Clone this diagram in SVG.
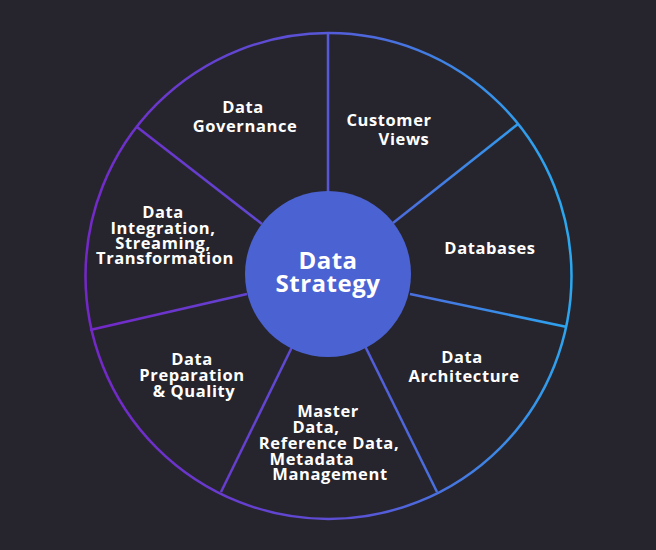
<svg xmlns="http://www.w3.org/2000/svg" width="656" height="550" viewBox="0 0 656 550">
<defs>
<linearGradient id="g" gradientUnits="userSpaceOnUse" x1="86" y1="300" x2="571" y2="250">
<stop offset="0" stop-color="#7427c8"/><stop offset="0.5" stop-color="#5a52d6"/><stop offset="1" stop-color="#2aa8f0"/>
</linearGradient>
<style>
.l{stroke:url(#g);stroke-width:2.5;fill:none}
.t{font-family:"Open Sans","Liberation Sans",sans-serif;font-weight:700;font-size:16.5px;letter-spacing:0.6px;fill:#fff;text-anchor:middle}
.c{font-size:24px;letter-spacing:0.5px}
</style>
</defs>
<rect width="656" height="550" fill="#26252d"/>
<g id="connectors">
<circle class="l" cx="328.5" cy="276" r="243"/>
<line class="l" x1="328" y1="33" x2="328" y2="192"/>
<line class="l" x1="137" y1="127" x2="262" y2="224"/>
<line class="l" x1="518" y1="124" x2="393" y2="223"/>
<line class="l" x1="567" y1="327" x2="410" y2="294"/>
<line class="l" x1="437" y1="492" x2="364" y2="344"/>
<line class="l" x1="221" y1="492" x2="292" y2="347"/>
<line class="l" x1="90" y1="330" x2="247" y2="294"/>
</g>
<g id="center"><circle cx="328" cy="274" r="83" fill="#4b62d3"/>
<text class="t c" x="328" y="269">Data</text><text class="t c" x="328" y="292">Strategy</text></g>
<g id="gov"><text class="t" x="243" y="113">Data</text><text class="t" x="245" y="132">Governance</text></g>
<g id="cust"><text class="t" x="389" y="126">Customer</text><text class="t" x="404" y="145">Views</text></g>
<g id="db"><text class="t" x="490" y="254">Databases</text></g>
<g id="arch"><text class="t" x="462" y="363">Data</text><text class="t" x="464" y="382">Architecture</text></g>
<g id="mdm"><text class="t" x="328" y="417">Master</text><text class="t" x="316" y="433">Data,</text><text class="t" x="329" y="449">Reference Data,</text><text class="t" x="312" y="465">Metadata</text><text class="t" x="330" y="480">Management</text></g>
<g id="prep"><text class="t" x="192" y="365">Data</text><text class="t" x="192" y="381">Preparation</text><text class="t" x="194" y="397">&amp; Quality</text></g>
<g id="integ"><text class="t" x="163" y="218">Data</text><text class="t" x="163" y="234">Integration,</text><text class="t" x="163" y="249">Streaming,</text><text class="t" x="165" y="264">Transformation</text></g>
</svg>
